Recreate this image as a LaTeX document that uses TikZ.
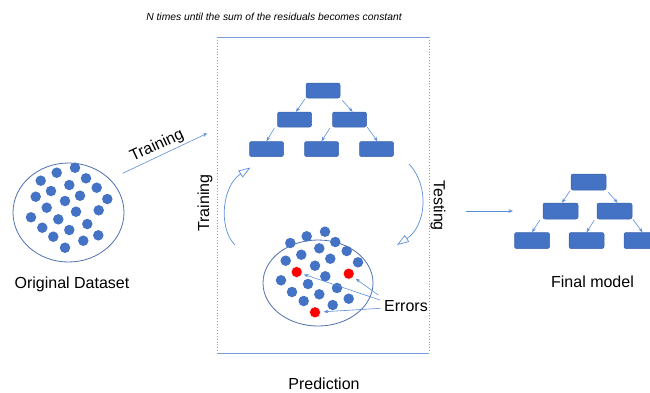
\documentclass[tikz,border=0pt]{standalone}
\usepackage{fontspec}
\setmainfont{Liberation Sans}
\usetikzlibrary{arrows.meta}
\definecolor{dotblue}{HTML}{4472C4}
\definecolor{boxedge}{HTML}{3B63AE}
\definecolor{ringblue}{HTML}{4F70B0}
\definecolor{arrowblue}{HTML}{5B8EDB}
\definecolor{frameblue}{HTML}{7A9BE0}
\definecolor{errred}{HTML}{FF0000}
\begin{document}
\begin{tikzpicture}[x=1pt,y=-1pt,
  dot/.style={circle,fill=dotblue,inner sep=0pt,minimum size=10.5pt},
  errdot/.style={circle,fill=errred,draw=white,line width=0.4pt,inner sep=0pt,minimum size=11pt},
  tbox/.style={draw=boxedge,fill=dotblue,rounded corners=2pt,minimum width=34pt,minimum height=15pt,inner sep=0pt,line width=0.5pt},
  fbox/.style={tbox,minimum width=35pt,minimum height=16pt},
  tarrow/.style={draw=arrowblue,line width=0.6pt,-{Stealth[length=4.5pt,width=3.5pt]}},
  loopar/.style={draw=arrowblue,line width=0.7pt,-{Triangle[open,length=12pt,width=8pt,fill=white]}},
  lbl/.style={font=\fontsize{16}{19}\selectfont,inner sep=0pt},
  ring/.style={draw=ringblue,line width=0.8pt}
]
\useasboundingbox (0,0) rectangle (650,392);
\clip (0,0) rectangle (650,392);

% title
\node[inner sep=0pt,font=\fontsize{10.3}{12}\selectfont\itshape] (title) at (274,17) {N times until the sum of the residuals becomes constant};

% frame
\coordinate (fTL) at (217,37);
\coordinate (fTR) at (429,37);
\coordinate (fBL) at (217,353);
\coordinate (fBR) at (429,353);
\draw[frameblue,line width=0.8pt] (fTL) -- (fTR);
\draw[frameblue,line width=0.8pt] (fBL) -- (fBR);
\draw[frameblue,line width=0.9pt,dotted] (fTL) -- (fBL);
\draw[frameblue,line width=0.9pt,dotted] (fTR) -- (fBR);

% original dataset
\draw[ring] (68.5,212.5) ellipse [x radius=55.5, y radius=49.5];
\coordinate (dscenter) at (68.5,212.5);
\foreach \px/\py [count=\i] in {75/167.7,56.7/172.7,86/178.3,40.7/180.7,69.3/185,96.7/187.7,51/191,35.7/196.7,80/195.7,107.3/199,65/201,46.7/207.7,76/211.7,98.7/210.3,31/217.3,58.3/219.3,87.3/224,42.3/227.7,69.3/230,98.3/235.3,53.3/236.7,83.3/240.7,65/247.7}
  \node[dot] (o\i) at (\px,\py) {};
\node[lbl] (origlbl) at (72,284) {Original Dataset};

% training arrow
\coordinate (trs) at (122.7,173.3);
\coordinate (tre) at (207.3,133.3);
\draw[tarrow] (trs) -- (tre);
\node[lbl,rotate=25] (trlbl) at (157,146) {Training};

% tree in box
\node[tbox] (a0) at (323,90.5) {};
\node[tbox] (a1) at (294.5,119.5) {};
\node[tbox] (a2) at (349.5,119.5) {};
\node[tbox] (a3) at (266.5,149) {};
\node[tbox] (a4) at (321.5,149) {};
\node[tbox] (a5) at (376.5,149) {};
\draw[tarrow] ([xshift=-1pt,yshift=-1pt]a0.south west) -- ([xshift=1.5pt]a1.north);
\draw[tarrow] ([xshift=2pt,yshift=-2pt]a0.south east) -- ([xshift=3pt]a2.north);
\draw[tarrow] ([xshift=-3pt,yshift=-1pt]a1.south west) -- (a3.north);
\draw[tarrow] ([xshift=-2.5pt,yshift=-1pt]a2.south west) -- (a4.north);
\draw[tarrow] ([xshift=0.5pt,yshift=0pt]a2.south east) -- ([xshift=1pt]a5.north);

% vertical labels
\node[lbl,rotate=90] (trv) at (205,203) {Training};
\node[lbl,rotate=-90] (tev) at (438,205.5) {Testing};

% loop arrows
\coordinate (ls) at (235,245);
\coordinate (le) at (250.5,167.5);
\draw[loopar] (ls) .. controls (218,228) and (222,186) .. (le);
\coordinate (rs) at (409,164);
\coordinate (re) at (397,245);
\draw[loopar] (rs) .. controls (430,186) and (426,226) .. (re);

% prediction set
\draw[ring] (318,283) ellipse [x radius=55, y radius=43];
\foreach \px/\py [count=\i] in {325/231.7,306.7/236.3,290.3/243,335.3/242,319.3/248.3,346.7/251,301.3/254.7,285.7/260.7,330.3/258.7,315/265.7,358/262.3,325.3/276.3,281/280.3,308/284,337/288,292/292,319.3/294.3,348.7/298.7,303.7/301,332.7/305}
  \node[dot] (p\i) at (\px,\py) {};
\node[errdot] (r1) at (296.7,272) {};
\node[errdot] (r2) at (348.7,273.7) {};
\node[errdot] (r3) at (315,312.3) {};
\node[lbl] (errlbl) at (406,306) {Errors};
\coordinate (e1) at (378.3,295);
\coordinate (e2) at (380,300);
\coordinate (e3) at (380.7,308.3);
\draw[tarrow,shorten >=3pt] (e1) -- (r2);
\draw[tarrow,shorten >=2pt] (e2) -- (r1);
\draw[tarrow,shorten >=3pt] (e3) -- (r3);
\node[lbl] (predlbl) at (324,383.5) {Prediction};

% arrow to final model
\coordinate (fs) at (466,211);
\coordinate (fe) at (513,211);
\draw[tarrow] (fs) -- (fe);

% final model tree
\node[fbox] (b0) at (588.5,182) {};
\node[fbox] (b1) at (560.5,211) {};
\node[fbox] (b2) at (614.5,211) {};
\node[fbox] (b3) at (532,240.5) {};
\node[fbox] (b4) at (586.5,240.5) {};
\node[fbox] (b5) at (641.5,240.5) {};
\draw[tarrow] ([xshift=-1pt,yshift=-1pt]b0.south west) -- ([xshift=1.5pt]b1.north);
\draw[tarrow] ([xshift=2pt,yshift=-2pt]b0.south east) -- ([xshift=3pt]b2.north);
\draw[tarrow] ([xshift=-3pt,yshift=-1pt]b1.south west) -- (b3.north);
\draw[tarrow] ([xshift=-2.5pt,yshift=-1pt]b2.south west) -- (b4.north);
\draw[tarrow] ([xshift=0.5pt,yshift=0pt]b2.south east) -- ([xshift=1pt]b5.north);
\node[lbl] (finlbl) at (592.5,282) {Final model};
\end{tikzpicture}
\end{document}
